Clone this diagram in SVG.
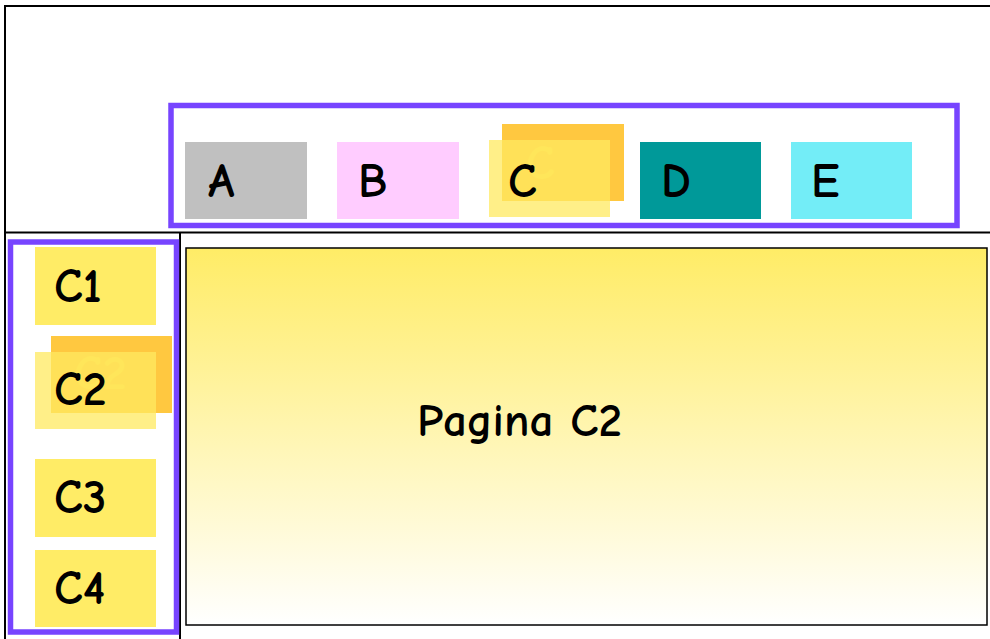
<svg xmlns="http://www.w3.org/2000/svg" width="990" height="639" viewBox="0 0 990 639">
<defs>
<linearGradient id="pg" x1="0" y1="0" x2="0" y2="1">
<stop offset="0" stop-color="#FFEC66"/>
<stop offset="1" stop-color="#FFFFFF"/>
</linearGradient>
</defs>
<style>
.t{font-family:"Comic Sans MS","Comic Neue","Open Sans","DejaVu Sans",sans-serif;font-size:48px;font-weight:bold;fill:#000}
.g{font-family:"Comic Sans MS","Comic Neue","Open Sans","DejaVu Sans",sans-serif;font-size:48px;font-weight:bold;fill:#FFD94A}
.p{font-family:"Comic Sans MS","Comic Neue","Open Sans","DejaVu Sans",sans-serif;font-size:47px;font-weight:bold;fill:#000}
.frame{fill:none;stroke:#000;stroke-width:2}
.sel{fill:none;stroke:#7744FF;stroke-width:5.5}
.yl{fill:#FFEC66}
.org{fill:#FFC840}
.drag{fill:#FFEA60;fill-opacity:0.75}
</style>
<rect width="990" height="639" fill="#fff"/>
<g id="frame">
<path class="frame" d="M990 6 H5 V639"/>
<path class="frame" d="M5 232.5 H990"/>
<path class="frame" d="M180 232.5 V639"/>
</g>
<g id="tabs">
<rect class="sel" x="171" y="105.5" width="786" height="120"/>
<g id="tabA"><rect x="185" y="142" width="122" height="77" fill="#C0C0C0"/><text class="t" x="208" y="197">A</text></g>
<g id="tabB"><rect x="337" y="142" width="122" height="77" fill="#FFCCFF"/><text class="t" x="358" y="197">B</text></g>
<g id="tabC"><rect class="org" x="502" y="124" width="122" height="77"/><text class="g" x="526" y="179">C</text><rect class="drag" x="489" y="140" width="121" height="77"/><text class="t" x="508" y="197">C</text></g>
<g id="tabD"><rect x="640" y="142" width="121" height="77" fill="#009999"/><text class="t" x="661" y="197">D</text></g>
<g id="tabE"><rect x="791" y="142" width="121" height="77" fill="#73EDF7"/><text class="t" x="811" y="197">E</text></g>
</g>
<g id="menu">
<rect class="sel" x="10.5" y="242" width="166" height="390"/>
<g id="C1"><rect class="yl" x="35" y="247" width="121" height="78"/><text class="t" x="54" y="302">C1</text></g>
<g id="C2"><rect class="org" x="51" y="336" width="121" height="77"/><text class="g" x="74" y="389">C2</text><rect class="drag" x="35" y="352" width="121" height="77"/><text class="t" x="54" y="405">C2</text></g>
<g id="C3"><rect class="yl" x="35" y="459" width="121" height="78"/><text class="t" x="54" y="513">C3</text></g>
<g id="C4"><rect class="yl" x="35" y="550" width="121" height="77"/><text class="t" x="54" y="604">C4</text></g>
</g>
<g id="page">
<rect x="186" y="248" width="801" height="377" fill="url(#pg)" stroke="#000" stroke-width="1.5"/>
<text class="p" x="417" y="436">Pagina C2</text>
</g>
</svg>
